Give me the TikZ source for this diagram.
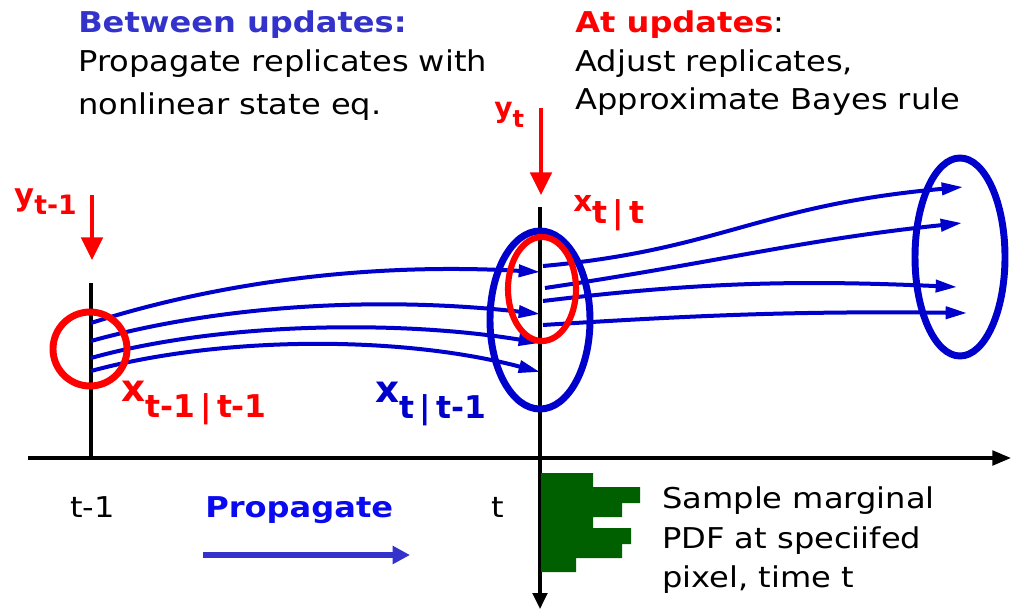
\documentclass[tikz,border=0pt]{standalone}
\usepackage{fontspec}
\setmainfont{DejaVu Sans}[FakeStretch=1.12]
\newfontfamily\lblfont{DejaVu Sans}
\usetikzlibrary{arrows.meta}
\definecolor{cblue}{RGB}{0,0,204}
\definecolor{tblue}{RGB}{51,51,204}
\definecolor{pblue}{RGB}{10,10,240}
\definecolor{cred}{RGB}{255,0,0}
\definecolor{cgreen}{RGB}{0,96,0}
\newcommand{\fs}[1]{\fontsize{#1}{#1}\selectfont}
\tikzset{
  txt/.style={anchor=base west, inner sep=0pt, font=\fs{21.5}},
  lbl/.style={anchor=base west, inner sep=0pt},
  traj/.style={cblue, line width=3pt, -{Triangle[length=16pt,width=9pt]}},
  axis/.style={black, line width=2.4pt},
  obs/.style={cred, line width=3pt, -{Triangle[length=17pt,width=16pt]}},
  ring/.style={line width=5.2pt},
}
\begin{document}
\begin{tikzpicture}[x=0.75pt,y=-0.75pt]
\useasboundingbox (0,0) rectangle (1013,613);
% top texts
\node[txt, font=\fs{21.5}\bfseries, text=tblue] (bu) at (78,33) {Between updates:};
\node[txt] (bu1) at (78,72) {Propagate replicates with};
\node[txt] (bu2) at (78,115) {nonlinear state eq.};
\node[txt] (au) at (575,33) {\textbf{\color{cred}At updates}:};
\node[txt] (au1) at (575,72) {Adjust replicates,};
\node[txt] (au2) at (575,110) {Approximate Bayes rule};
% axes
\coordinate (ax0) at (28,458);
\coordinate (ax1) at (1011,458);
\draw[axis, -{Triangle[length=14pt,width=11pt]}] (ax0) -- (ax1);
\coordinate (v0a) at (91,283);
\coordinate (v0b) at (91,458);
\draw[axis] (v0a) -- (v0b);
\coordinate (v1a) at (540,207);
\coordinate (v1b) at (540,609);
\draw[axis, -{Triangle[length=12pt,width=11pt]}] (v1a) -- (v1b);
% histogram
\fill[cgreen] (541,473) -- (593,473) -- (593,487) -- (640,487) -- (640,503) -- (622,503) -- (622,517) -- (593,517) -- (593,528) -- (631,528) -- (631,544) -- (622,544) -- (622,558) -- (576,558) -- (576,572) -- (541,572) -- cycle;
\node[txt] (s1) at (662,508) {Sample marginal};
\node[txt] (s2) at (662,548) {PDF at speciifed};
\node[txt] (s3) at (662,587) {pixel, time t};
% time labels
\node[txt, font=\fs{21.5}] (tm1) at (70,517) {t-1};
\node[txt, font=\fs{21.5}] (tt) at (491,517) {t};
\node[txt, font=\fs{21.5}\bfseries, text=pblue] (prop) at (205,517) {Propagate};
\coordinate (pa0) at (203,555);
\coordinate (pa1) at (410,555);
\draw[tblue, line width=4pt, -{Triangle[length=13pt,width=13pt]}] (pa0) -- (pa1);
% observations
\coordinate (y0a) at (92,195);
\coordinate (y0b) at (92,260);
\draw[obs] (y0a) -- (y0b);
\coordinate (y1a) at (541,108);
\coordinate (y1b) at (541,195);
\draw[obs] (y1a) -- (y1b);
\node[lbl, text=cred, font=\lblfont\fs{23}\bfseries] (ylab0) at (14,205) {y\raisebox{-7pt}{\fs{20}t-1}};
\node[lbl, text=cred, font=\lblfont\fs{21}\bfseries] (ylab1) at (494,118) {y\raisebox{-7pt}{\fs{18}t}};
% left trajectories
\coordinate (a1) at (91,323); \coordinate (b1) at (540,272);
\coordinate (a2) at (91,341); \coordinate (b2) at (540,314);
\coordinate (a3) at (91,358); \coordinate (b3) at (540,343);
\coordinate (a4) at (91,371); \coordinate (b4) at (540,372);
\draw[traj] (a1) .. controls (210,285) and (360,262) .. (b1);
\draw[traj] (a2) .. controls (220,305) and (380,296) .. (b2);
\draw[traj] (a3) .. controls (220,322) and (400,320) .. (b3);
\draw[traj] (a4) .. controls (220,336) and (400,335) .. (b4);
% right trajectories
\coordinate (c1) at (543,266); \coordinate (d1) at (963,187);
\coordinate (c2) at (545,288); \coordinate (d2) at (962,223);
\coordinate (c3) at (543,301); \coordinate (d3) at (957,287);
\coordinate (c4) at (543,325); \coordinate (d4) at (967,313);
\draw[traj] (c1) .. controls (720,250) and (760,205) .. (d1);
\draw[traj] (c2) .. controls (720,262) and (800,240) .. (d2);
\draw[traj] (c3) .. controls (700,282) and (800,280) .. (d3);
\draw[traj] (c4) .. controls (700,315) and (800,311) .. (d4);
% rings
\draw[cred, ring] (90,349) circle [x radius=37, y radius=37];
\draw[cblue, ring] (540,320) circle [x radius=50, y radius=89];
\draw[cred, line width=4.6pt] (542,289) circle [x radius=34, y radius=52];
\draw[cblue, ring] (960,257) circle [x radius=45, y radius=99];
% state labels
\node[lbl, text=cred, font=\lblfont\fs{28}\bfseries] (xl0) at (121,401) {x\raisebox{-12pt}{\fs{23.5}t-1\,|\,t-1}};
\node[lbl, text=cblue, font=\lblfont\fs{28}\bfseries] (xl1) at (375,402) {x\raisebox{-12pt}{\fs{23.5}t\,|\,t-1}};
\node[lbl, text=cred, font=\lblfont\fs{22}\bfseries] (xl2) at (573,211) {x\raisebox{-9pt}{\fs{23.5}t\,|\,t}};
\end{tikzpicture}
\end{document}
